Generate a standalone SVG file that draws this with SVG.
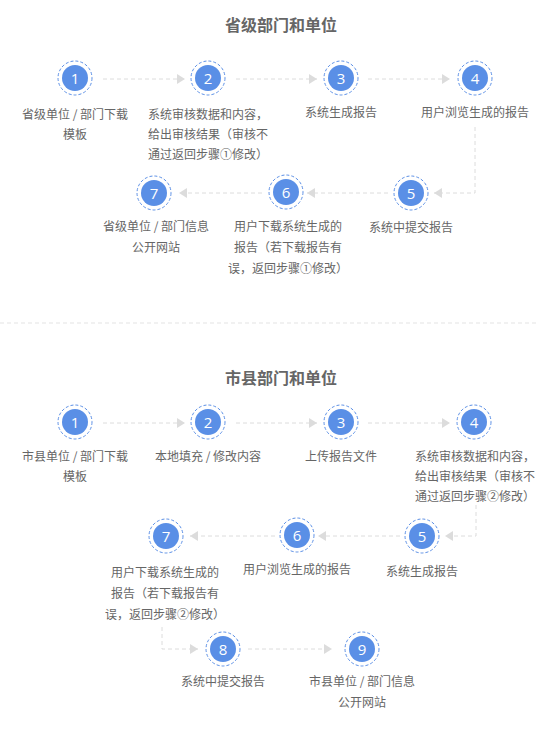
<svg xmlns="http://www.w3.org/2000/svg" width="537" height="729" viewBox="0 0 537 729">
<defs>
<style>
.t{font-family:"Noto Sans CJK SC","Noto Sans",sans-serif;font-size:12px;fill:#666;text-anchor:middle}
.h{font-family:"Noto Sans CJK SC","Noto Sans",sans-serif;font-size:16px;font-weight:bold;fill:#666;text-anchor:middle}
.ring{fill:#fff;stroke:#5b8fe6;stroke-width:1;stroke-dasharray:3 2}
.dot{fill:#5a8fe6}
.n{font-family:"Open Sans","Noto Sans",sans-serif;font-size:15px;fill:#fff;text-anchor:middle}
.c{fill:none;stroke:#dcdcdc;stroke-width:1;stroke-dasharray:4 3}
</style>
<marker id="ah" markerUnits="userSpaceOnUse" markerWidth="8" markerHeight="10" refX="8" refY="5" orient="auto">
<path d="M0,0 L8,5 L0,10 Z" fill="#dcdcdc"/>
</marker>
<g id="node">
<circle class="ring" r="17"/>
<circle class="dot" r="13"/>
</g>
</defs>
<rect width="537" height="729" fill="#fff"/>

<text class="h" x="281" y="31">省级部门和单位</text>
<text class="h" x="281" y="384">市县部门和单位</text>
<line x1="0" y1="323" x2="537" y2="323" stroke="#e3e3e3" stroke-dasharray="4 3"/>

<g id="connectors">
<path class="c" marker-end="url(#ah)" d="M103 79 H185"/>
<path class="c" marker-end="url(#ah)" d="M236 79 H317"/>
<path class="c" marker-end="url(#ah)" d="M368 79 H450"/>
<path class="c" marker-end="url(#ah)" d="M475 127 V193 H434"/>
<path class="c" marker-end="url(#ah)" d="M388 193 H307"/>
<path class="c" marker-end="url(#ah)" d="M262 193 H179"/>
<path class="c" marker-end="url(#ah)" d="M103 423 H185"/>
<path class="c" marker-end="url(#ah)" d="M236 423 H317"/>
<path class="c" marker-end="url(#ah)" d="M368 423 H450"/>
<path class="c" marker-end="url(#ah)" d="M476 505 V536 H445"/>
<path class="c" marker-end="url(#ah)" d="M400 536 H318"/>
<path class="c" marker-end="url(#ah)" d="M275 536 H190"/>
<path class="c" marker-end="url(#ah)" d="M162 627 V649 H198"/>
<path class="c" marker-end="url(#ah)" d="M248 649 H332"/>
</g>

<g id="a1"><use href="#node" x="75" y="78"/><text class="n" x="75" y="83.5">1</text>
<text class="t" x="75" y="119">省级单位 / 部门下载</text><text class="t" x="75" y="139">模板</text></g>
<g id="a2"><use href="#node" x="208" y="78"/><text class="n" x="208" y="83.5">2</text>
<text class="t" x="208" y="119">系统审核数据和内容，</text><text class="t" x="208" y="139">给出审核结果（审核不</text><text class="t" x="208" y="159">通过返回步骤①修改）</text></g>
<g id="a3"><use href="#node" x="341" y="78"/><text class="n" x="341" y="83.5">3</text>
<text class="t" x="341" y="117">系统生成报告</text></g>
<g id="a4"><use href="#node" x="475" y="78"/><text class="n" x="475" y="83.5">4</text>
<text class="t" x="475" y="117">用户浏览生成的报告</text></g>
<g id="a5"><use href="#node" x="411" y="193"/><text class="n" x="411" y="198.5">5</text>
<text class="t" x="411" y="232">系统中提交报告</text></g>
<g id="a6"><use href="#node" x="286" y="192"/><text class="n" x="286" y="197.5">6</text>
<text class="t" x="288" y="231">用户下载系统生成的</text><text class="t" x="288" y="252">报告（若下载报告有</text><text class="t" x="288" y="273">误，返回步骤①修改）</text></g>
<g id="a7"><use href="#node" x="154" y="193"/><text class="n" x="154" y="198.5">7</text>
<text class="t" x="156" y="231">省级单位 / 部门信息</text><text class="t" x="156" y="252">公开网站</text></g>

<g id="b1"><use href="#node" x="75" y="422"/><text class="n" x="75" y="427.5">1</text>
<text class="t" x="75" y="461">市县单位 / 部门下载</text><text class="t" x="75" y="481">模板</text></g>
<g id="b2"><use href="#node" x="208" y="422"/><text class="n" x="208" y="427.5">2</text>
<text class="t" x="208" y="461">本地填充 / 修改内容</text></g>
<g id="b3"><use href="#node" x="341" y="422"/><text class="n" x="341" y="427.5">3</text>
<text class="t" x="341" y="461">上传报告文件</text></g>
<g id="b4"><use href="#node" x="474" y="422"/><text class="n" x="474" y="427.5">4</text>
<text class="t" x="475" y="461">系统审核数据和内容，</text><text class="t" x="475" y="481">给出审核结果（审核不</text><text class="t" x="475" y="501">通过返回步骤②修改）</text></g>
<g id="b5"><use href="#node" x="422" y="536"/><text class="n" x="422" y="541.5">5</text>
<text class="t" x="422" y="576">系统生成报告</text></g>
<g id="b6"><use href="#node" x="297" y="535"/><text class="n" x="297" y="540.5">6</text>
<text class="t" x="297" y="574">用户浏览生成的报告</text></g>
<g id="b7"><use href="#node" x="166" y="536"/><text class="n" x="166" y="541.5">7</text>
<text class="t" x="165" y="577">用户下载系统生成的</text><text class="t" x="165" y="598">报告（若下载报告有</text><text class="t" x="165" y="619">误，返回步骤②修改）</text></g>
<g id="b8"><use href="#node" x="223" y="649"/><text class="n" x="223" y="654.5">8</text>
<text class="t" x="223" y="686">系统中提交报告</text></g>
<g id="b9"><use href="#node" x="362" y="649"/><text class="n" x="362" y="654.5">9</text>
<text class="t" x="362" y="686">市县单位 / 部门信息</text><text class="t" x="362" y="707">公开网站</text></g>
</svg>
